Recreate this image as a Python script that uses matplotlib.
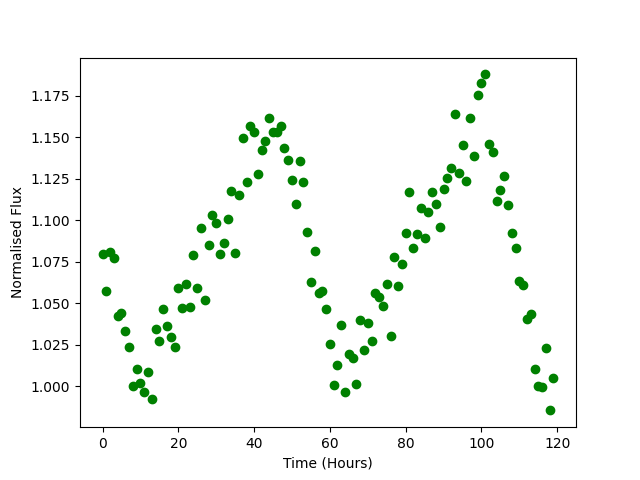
import matplotlib
matplotlib.use("Agg")
import matplotlib.pyplot as plt
import numpy as np

time_hours = list(range(120))
flux = [
    1.0800, 1.0576, 1.0809, 1.0772, 1.0427, 1.0444, 1.0331, 1.0239, 1.0004, 1.0108,
    1.0018, 0.9968, 1.0089, 0.9926, 1.0343, 1.0275, 1.0468, 1.0365, 1.0295, 1.0235,
    1.0594, 1.0474, 1.0614, 1.0480, 1.0789, 1.0594, 1.0951, 1.0522, 1.0849, 1.1029,
    1.0986, 1.0799, 1.0861, 1.1005, 1.1174, 1.0801, 1.1154, 1.1497, 1.1232, 1.1565,
    1.1533, 1.1276, 1.1425, 1.1479, 1.1613, 1.1529, 1.1529, 1.1565, 1.1433, 1.1365,
    1.1240, 1.1100, 1.1359, 1.1228, 1.0931, 1.0626, 1.0817, 1.0562, 1.0572, 1.0468,
    1.0257, 1.0006, 1.0132, 1.0371, 0.9964, 1.0193, 1.0173, 1.0016, 1.0403, 1.0217,
    1.0384, 1.0275, 1.0564, 1.0536, 1.0486, 1.0618, 1.0301, 1.0781, 1.0602, 1.0739,
    1.0921, 1.1168, 1.0831, 1.0915, 1.1072, 1.0891, 1.1048, 1.1168, 1.1100, 1.0961,
    1.1190, 1.1256, 1.1312, 1.1638, 1.1287, 1.1451, 1.1238, 1.1613, 1.1385, 1.1752,
    1.1824, 1.1878, 1.1457, 1.1409, 1.1114, 1.1180, 1.1264, 1.1090, 1.0921, 1.0831,
    1.0632, 1.0608, 1.0409, 1.0439, 1.0108, 1.0000, 0.9994, 1.0229, 0.9856, 1.0048,
]

fig, ax = plt.subplots(figsize=(6.4, 4.8), dpi=100)
ax.plot(time_hours, flux, 'o', color='green')
ax.set_xlabel('Time (Hours)')
ax.set_ylabel('Normalised Flux')
fig.savefig('out.png')
